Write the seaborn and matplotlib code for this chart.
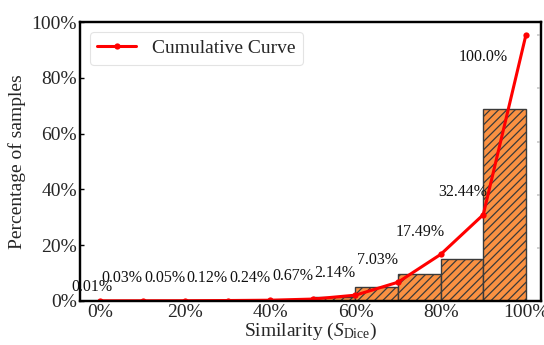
import numpy as np
import pandas as pd
import matplotlib
matplotlib.use("Agg")
import matplotlib.pyplot as plt
import seaborn as sns
from matplotlib.ticker import FuncFormatter

# ---- data ----
bin_edges = [0, 10, 20, 30, 40, 50, 60, 70, 80, 90, 100]
bin_heights = [0.02, 0.02, 0.07, 0.12, 0.43, 1.5, 4.9, 9.7, 15.1, 68.7]
cum_x = [0, 10, 20, 30, 40, 50, 60, 70, 80, 90, 100]
cum_values = [0.01, 0.03, 0.05, 0.12, 0.24, 0.67, 2.14, 7.03, 17.49, 32.44, 100.0]
cum_labels = ["0.01%", "0.03%", "0.05%", "0.12%", "0.24%", "0.67%",
              "2.14%", "7.03%", "17.49%", "32.44%", "100.0%"]
tick_vals = [0, 20, 40, 60, 80, 100]

sns.set_theme(style="white")
plt.rcParams["font.family"] = ["Liberation Serif", "DejaVu Serif"]
plt.rcParams["mathtext.fontset"] = "custom"
plt.rcParams["mathtext.rm"] = "Liberation Serif"
plt.rcParams["mathtext.it"] = "Liberation Serif:italic"
plt.rcParams["hatch.linewidth"] = 0.9

fig = plt.figure(figsize=(5.44, 3.45), dpi=100)
ax = fig.add_axes([0.147, 0.128, 0.847, 0.808])

centers = [(a + b) / 2 for a, b in zip(bin_edges[:-1], bin_edges[1:])]
df_bins = pd.DataFrame({"center": centers, "h": bin_heights})
sns.histplot(data=df_bins, x="center", weights="h", bins=bin_edges, ax=ax,
             color="#FA9142", edgecolor="#3a3a3a", linewidth=1.0,
             hatch="////", alpha=1.0)

ax.set_xlim(-4.7, 103.5)
ax.set_ylim(0, 100)
ax.set_xticks(tick_vals)
ax.set_yticks(tick_vals)
pct = FuncFormatter(lambda v, p: f"{v:.0f}%")
ax.xaxis.set_major_formatter(pct)
ax.yaxis.set_major_formatter(pct)
ax.tick_params(axis="both", direction="in", labelsize=14, length=3, width=1,
               color="black", pad=2)
ax.set_xlabel(r"Similarity ($S_{\rm Dice}$)", fontsize=14, labelpad=0)
ax.set_ylabel("Percentage of samples", fontsize=14, labelpad=4)
for s in ax.spines.values():
    s.set_linewidth(1.6)
    s.set_color("black")

ax2 = ax.twinx()
df_cum = pd.DataFrame({"x": cum_x, "y": cum_values})
sns.lineplot(data=df_cum, x="x", y="y", ax=ax2, color="red", linewidth=2.2,
             marker="o", markersize=4.5, markeredgewidth=0,
             label="Cumulative Curve")
ax2.set_ylim(0, 105)
ax2.set_xlim(-4.7, 103.5)
ax2.set_ylabel("")
ax2.set_yticks(tick_vals)
ax2.tick_params(axis="y", direction="in", labelright=False, length=3,
                color="#cccccc")
for s in ax2.spines.values():
    s.set_linewidth(1.6)
    s.set_color("black")

n = len(cum_values)
for i, (xv, yv, lab) in enumerate(zip(cum_x, cum_values, cum_labels)):
    if i == 0:
        dx, dy = -2.0, 5.2
    elif i == n - 1:
        dx, dy = -10.0, -8.2
    else:
        dx, dy = -4.8, 8.5
    ax2.text(xv + dx, yv + dy, lab, fontsize=11.5, ha="center", va="center",
             color="#111111")

leg = ax2.legend(loc="upper left", fontsize=14, frameon=True,
                 borderaxespad=0.5, handlelength=2.0)
leg.get_frame().set_edgecolor("#dddddd")
leg.get_frame().set_linewidth(0.8)

fig.savefig("out.png", dpi=100)
